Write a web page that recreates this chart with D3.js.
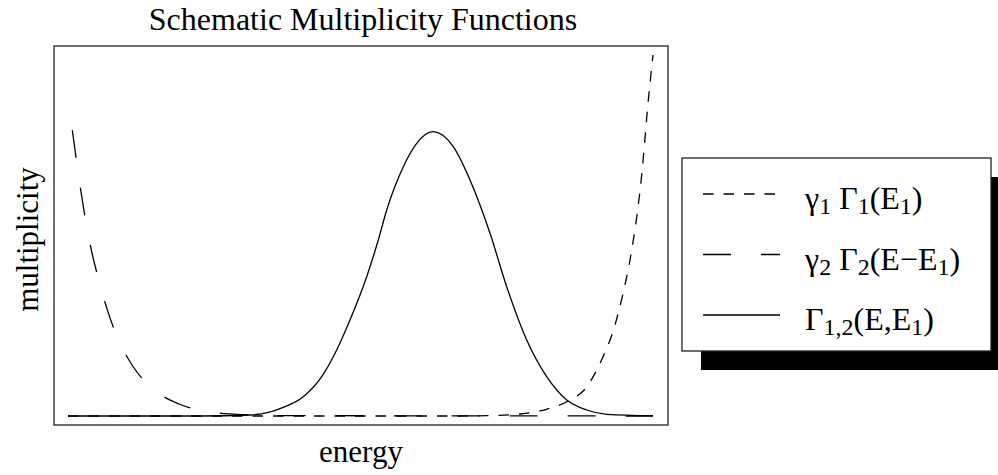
<!DOCTYPE html>
<html>
<head>
<meta charset="utf-8">
<script src="https://d3js.org/d3.v7.min.js"></script>
<style>
  body { margin: 0; background: #fff; }
  text { font-family: "Liberation Serif", "Times New Roman", serif; fill: #000; }
</style>
</head>
<body>
<div id="vis"></div>
<script>
var width = 998;
var height = 475;

// values (energy and multiplicity, both scaled 0..1)
var gamma1X = [0, 0.653, 0.716, 0.773, 0.818, 0.855, 0.887, 0.912, 0.932, 0.949, 0.961, 0.981, 0.992, 1.0];
var gamma1Y = [0, 0, 0.001, 0.0055, 0.0186, 0.0416, 0.0812, 0.155, 0.236, 0.341, 0.435, 0.673, 0.875, 1.0];

var gamma2X = [0.0074, 0.0217, 0.0405, 0.053, 0.0672, 0.086, 0.1106, 0.1448, 0.1897, 0.241, 0.294, 0.379, 1.0];
var gamma2Y = [0.792, 0.626, 0.455, 0.375, 0.294, 0.212, 0.1385, 0.0756, 0.0332, 0.0119, 0.004, 0.001, 0];

var jointX = [0, 0.2256, 0.3111, 0.368, 0.4022, 0.4337, 0.4593, 0.482, 0.5106, 0.5304, 0.5448, 0.5732, 0.5961, 0.6239,
    0.6586, 0.6872, 0.7214, 0.7499, 0.7841, 0.8183, 0.8525, 0.8867, 0.9209, 1.0];
var jointY = [0, 0, 0.0028, 0.0241, 0.0535, 0.1089, 0.1828, 0.2659, 0.3859, 0.4875, 0.5706, 0.6906, 0.7554, 0.7875,
    0.746, 0.6537, 0.5061, 0.3582, 0.2105, 0.1089, 0.0443, 0.0166, 0.0047, 0.0008];

// legend labels: pieces of [text, subscript?]
var legendLabels = [
    [["γ", 0], ["1", 1], [" Γ", 0], ["1", 1], ["(E", 0], ["1", 1], [")", 0]],
    [["γ", 0], ["2", 1], [" Γ", 0], ["2", 1], ["(E−E", 0], ["1", 1], [")", 0]],
    [["Γ", 0], ["1,2", 1], ["(E,E", 0], ["1", 1], [")", 0]]
];
var legendDash = ["10.5,10", "28,30", null];

var plot = { left: 54, top: 46, right: 668, bottom: 425 };

var svg = d3.select('#vis')
    .append('svg')
    .attr('width', width)
    .attr('height', height);

var x = d3.scaleLinear().domain([0, 1]).range([68, 653]);
var y = d3.scaleLinear().domain([0, 1]).range([416, 55]);

var line = d3.line()
    .x(function (d) { return x(d[0]); })
    .y(function (d) { return y(d[1]); })
    .curve(d3.curveMonotoneX);

function pairs(xs, ys) {
    return xs.map(function (v, i) { return [v, ys[i]]; });
}

var series = [
    { pts: pairs(gamma1X, gamma1Y), dash: legendDash[0] },
    { pts: pairs(gamma2X, gamma2Y), dash: legendDash[1] },
    { pts: pairs(jointX, jointY), dash: legendDash[2] }
];

svg.append('g').selectAll('path')
    .data(series)
    .enter().append('path')
    .attr('d', function (d) { return line(d.pts); })
    .attr('fill', 'none')
    .attr('stroke', '#000')
    .attr('stroke-width', 1.3)
    .attr('stroke-dasharray', function (d) { return d.dash; });

// plot box
svg.append('rect')
    .attr('x', plot.left)
    .attr('y', plot.top)
    .attr('width', plot.right - plot.left)
    .attr('height', plot.bottom - plot.top)
    .attr('fill', 'none')
    .attr('stroke', '#222')
    .attr('stroke-width', 1.3);

// titles
svg.append('text')
    .attr('x', 363)
    .attr('y', 30)
    .attr('text-anchor', 'middle')
    .style('font-size', '32px')
    .text('Schematic Multiplicity Functions');

svg.append('text')
    .attr('x', (plot.left + plot.right) / 2)
    .attr('y', 462)
    .attr('text-anchor', 'middle')
    .style('font-size', '31px')
    .text('energy');

svg.append('text')
    .attr('transform', 'translate(38,' + ((plot.top + plot.bottom) / 2 + 4) + ') rotate(-90)')
    .attr('text-anchor', 'middle')
    .style('font-size', '31px')
    .text('multiplicity');

// legend with drop shadow
var lg = { x: 682, y: 158, w: 309, h: 193, shadow: 19 };
svg.append('rect')
    .attr('x', lg.x + lg.shadow)
    .attr('y', lg.y + lg.shadow)
    .attr('width', lg.w)
    .attr('height', lg.h)
    .attr('fill', '#000');
svg.append('rect')
    .attr('x', lg.x)
    .attr('y', lg.y)
    .attr('width', lg.w)
    .attr('height', lg.h)
    .attr('fill', '#fff')
    .attr('stroke', '#222')
    .attr('stroke-width', 1.3);

var rowY = d3.scaleLinear().domain([0, 2]).range([194, 315]);

var rows = svg.append('g').selectAll('g')
    .data(legendLabels)
    .enter().append('g');

rows.append('line')
    .attr('x1', 703)
    .attr('x2', 780)
    .attr('y1', function (d, i) { return rowY(i); })
    .attr('y2', function (d, i) { return rowY(i); })
    .attr('stroke', '#000')
    .attr('stroke-width', 1.3)
    .attr('stroke-dasharray', function (d, i) { return legendDash[i]; });

var labels = rows.append('text')
    .attr('x', 805)
    .attr('y', function (d, i) { return rowY(i) + 15; })
    .style('font-size', '32px');

labels.selectAll('tspan')
    .data(function (d) { return d; })
    .enter().append('tspan')
    .style('font-size', function (d) { return d[1] ? '24px' : null; })
    .attr('dy', function (d, i, nodes) {
        var prev = i > 0 ? d3.select(nodes[i - 1]).datum()[1] : 0;
        if (d[1] && !prev) return 5;
        if (!d[1] && prev) return -5;
        return 0;
    })
    .text(function (d) { return d[0]; });
</script>
</body>
</html>
